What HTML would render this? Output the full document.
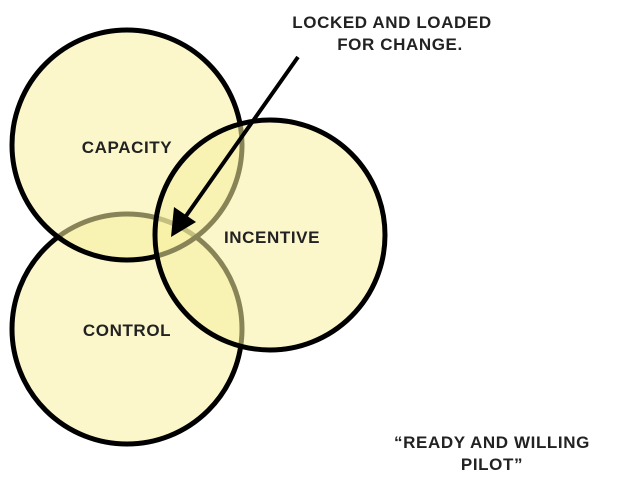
<!DOCTYPE html>
<html><head><style>
body{margin:0;background:#fff;width:642px;height:484px;overflow:hidden}
svg text{font-family:"Liberation Sans",sans-serif;font-weight:bold;fill:#222;letter-spacing:0.6px}
</style></head><body>
<svg width="642" height="484" xmlns="http://www.w3.org/2000/svg">
<g stroke="#000" stroke-width="5">
<circle cx="127" cy="329" r="115" fill="rgba(248,240,160,0.55)"/>
<circle cx="127" cy="145" r="115" fill="rgba(248,240,160,0.55)"/>
<circle cx="270" cy="235" r="115" fill="rgba(248,240,160,0.55)"/>
</g>
<line x1="298" y1="57" x2="186" y2="216" stroke="#000" stroke-width="4"/>
<polygon points="171,237 174,207 196,222" fill="#000"/>
<text x="127" y="153" font-size="17" text-anchor="middle">CAPACITY</text>
<text x="272" y="243" font-size="17" text-anchor="middle">INCENTIVE</text>
<text x="127" y="336" font-size="17" text-anchor="middle">CONTROL</text>
<text x="392" y="28" font-size="17" text-anchor="middle">LOCKED AND LOADED</text>
<text x="400" y="50" font-size="17" text-anchor="middle">FOR CHANGE.</text>
<text x="492" y="448" font-size="17" text-anchor="middle">“READY AND WILLING</text>
<text x="492" y="470" font-size="17" text-anchor="middle">PILOT”</text>
</svg>
</body></html>
